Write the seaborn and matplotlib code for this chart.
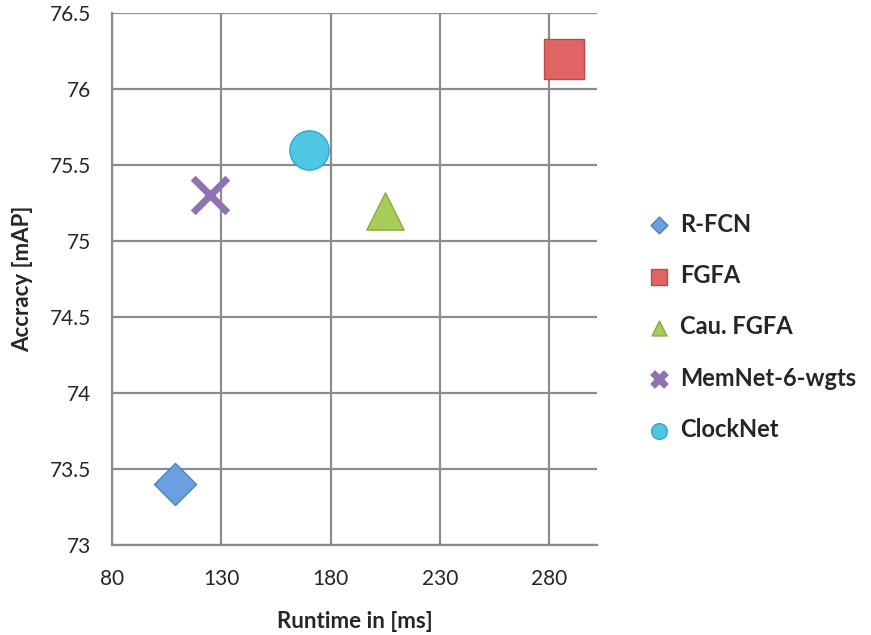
import matplotlib
matplotlib.use("Agg")
import matplotlib.pyplot as plt
import seaborn as sns
import pandas as pd

# data
models = ["R-FCN", "FGFA", "Cau. FGFA", "MemNet-6-wgts", "ClockNet"]
runtime_ms = [109, 287, 205, 125, 170]
accuracy_map = [73.4, 76.2, 75.2, 75.3, 75.6]

colors = ["#6a9fe0", "#e06464", "#a7cc5a", "#8e72b2", "#4ec6e4"]
edges = ["#4f82c0", "#c04848", "#88ad3c", "#8e72b2", "#33a8c8"]
markers = ["D", "s", "^", "x", "o"]
sizes = [460, 840, 720, 620, 800]

df = pd.DataFrame({"model": models, "runtime": runtime_ms, "acc": accuracy_map})

sns.set_style("white")
plt.rcParams["font.family"] = ["Lato", "DejaVu Sans"]

fig = plt.figure(figsize=(8.71, 6.35), dpi=100)
ax = fig.add_axes([0.1286, 0.1417, 0.557, 0.838])

grid_c = "#8c8c8c"
for i, row in df.iterrows():
    if markers[i] == "x":
        sns.scatterplot(x=[row["runtime"]], y=[row["acc"]], ax=ax, marker="x",
                        s=sizes[i], color=colors[i], linewidth=5, label=row["model"], zorder=3)
    else:
        sns.scatterplot(x=[row["runtime"]], y=[row["acc"]], ax=ax, marker=markers[i],
                        s=sizes[i], color=colors[i], edgecolor=edges[i], linewidth=1,
                        label=row["model"], zorder=3)

ax.set_xlim(80, 302)
ax.set_ylim(73, 76.5)
ax.set_xticks([80, 130, 180, 230, 280])
ax.set_yticks([73, 73.5, 74, 74.5, 75, 75.5, 76, 76.5])
ax.set_yticklabels(["73", "73.5", "74", "74.5", "75", "75.5", "76", "76.5"])
ax.grid(True, color=grid_c, linewidth=1.6)
ax.set_axisbelow(True)
for s in ["top", "right"]:
    ax.spines[s].set_visible(False)
for s in ["left", "bottom"]:
    ax.spines[s].set_color(grid_c)
    ax.spines[s].set_linewidth(1.6)
ax.tick_params(axis="both", direction="out", length=5, width=1.6, color=grid_c,
               labelsize=15)
ax.tick_params(axis="x", pad=12)
ax.tick_params(axis="y", pad=10)

ax.set_xlabel("Runtime in [ms]", fontsize=16, fontweight="bold", labelpad=16)
ax.set_ylabel("Accracy [mAP]", fontsize=16, fontweight="bold", labelpad=12)

leg = ax.legend(loc="center left", bbox_to_anchor=(1.035, 0.41), frameon=False,
                markerscale=0.4, handletextpad=-0.1, labelspacing=1.2,
                prop={"size": 17, "weight": "bold"})

fig.savefig("out.png", dpi=100)
